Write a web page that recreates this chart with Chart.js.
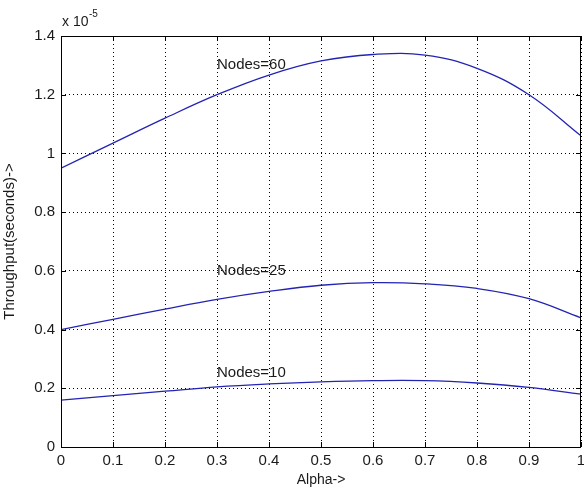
<!DOCTYPE html>
<html>
<head>
<meta charset="utf-8">
<script src="https://cdn.jsdelivr.net/npm/chart.js@4"></script>
<style>
html,body{margin:0;padding:0;background:#fff;}
#wrap{width:584px;height:491px;position:relative;}
</style>
</head>
<body>
<div id="wrap"><canvas id="c" width="584" height="491"></canvas></div>
<script>
const alpha = [0, 0.1, 0.2, 0.3, 0.4, 0.5, 0.6, 0.7, 0.8, 0.9, 1.0];
const nodes60 = [0.95, 1.035, 1.12, 1.2, 1.267, 1.315, 1.337, 1.335, 1.29, 1.2, 1.06];
const nodes25 = [0.40, 0.435, 0.47, 0.503, 0.53, 0.551, 0.56, 0.556, 0.54, 0.505, 0.44];
const nodes10 = [0.16, 0.175, 0.19, 0.205, 0.215, 0.222, 0.226, 0.226, 0.218, 0.203, 0.18];
const seriesLabels = ['Nodes=60', 'Nodes=25', 'Nodes=10'];
const labelPos = [[0.3, 1.30], [0.3, 0.60], [0.3, 0.253]];
const xTicks = [0, 0.1, 0.2, 0.3, 0.4, 0.5, 0.6, 0.7, 0.8, 0.9, 1];
const yTicks = [0, 0.2, 0.4, 0.6, 0.8, 1, 1.2, 1.4];
const FONT = 'Liberation Sans, Arial, sans-serif';
const LINE = '#2323b4';
const TXT = '#1a1a1a';

function pts(ys){ return alpha.map((x,i)=>({x:x, y:ys[i]})); }

const overlay = {
  id:'overlay',
  afterDraw(chart){
    const {ctx, chartArea:a, scales:{x, y}} = chart;
    ctx.save();
    ctx.strokeStyle = '#000'; ctx.lineWidth = 1;
    const L = 5;
    ctx.beginPath();
    xTicks.forEach(v=>{
      const px = Math.round(x.getPixelForValue(v)) + 0.5;
      ctx.moveTo(px, a.bottom); ctx.lineTo(px, a.bottom - L);
      ctx.moveTo(px, a.top); ctx.lineTo(px, a.top + L);
    });
    yTicks.forEach(v=>{
      const py = Math.round(y.getPixelForValue(v)) + 0.5;
      ctx.moveTo(a.left, py); ctx.lineTo(a.left + L, py);
      ctx.moveTo(a.right, py); ctx.lineTo(a.right - L, py);
    });
    ctx.stroke();
    ctx.strokeRect(Math.round(a.left)+0.5, Math.round(a.top)+0.5, Math.round(a.right-a.left)-1, Math.round(a.bottom-a.top));
    ctx.fillStyle = TXT;
    ctx.font = '15px ' + FONT;
    ctx.textBaseline = 'middle'; ctx.textAlign = 'left';
    seriesLabels.forEach((t,i)=>{
      ctx.fillText(t, x.getPixelForValue(labelPos[i][0]), y.getPixelForValue(labelPos[i][1]));
    });
    ctx.font = '14px ' + FONT;
    ctx.textBaseline = 'alphabetic';
    ctx.fillText('x 10', a.left + 1, a.top - 10);
    ctx.font = '10px ' + FONT;
    ctx.fillText('-5', a.left + 28, a.top - 19);
    ctx.restore();
  }
};

new Chart(document.getElementById('c'), {
  type:'line',
  data:{
    datasets:[
      {label:seriesLabels[0], data:pts(nodes60)},
      {label:seriesLabels[1], data:pts(nodes25)},
      {label:seriesLabels[2], data:pts(nodes10)}
    ].map(d=>Object.assign(d,{borderColor:LINE, borderWidth:1.3, pointRadius:0, tension:0.4, fill:false}))
  },
  options:{
    responsive:false, animation:false,
    layout:{padding:{left:0, right:3, top:36, bottom:0}},
    plugins:{legend:{display:false}, tooltip:{enabled:false}},
    scales:{
      x:{
        type:'linear', min:0, max:1,
        afterFit(s){ s.height = 44; s.paddingLeft = 0; s.paddingRight = 0; },
        afterBuildTicks(s){ s.ticks = xTicks.map(v=>({value:v})); },
        border:{display:false, dash:[1,3]},
        grid:{color:'#000', lineWidth:1, drawTicks:false},
        ticks:{padding:5, color:TXT, font:{family:FONT, size:15}, maxRotation:0, autoSkip:false,
          callback:v=>String(Number(v.toFixed(1)))},
        title:{display:true, text:'Alpha->', color:TXT, font:{family:FONT, size:14}, padding:{top:0,bottom:2}}
      },
      y:{
        type:'linear', min:0, max:1.4,
        afterFit(s){ s.width = 61; s.paddingTop = 0; s.paddingBottom = 0; },
        afterBuildTicks(s){ s.ticks = yTicks.map(v=>({value:v})); },
        border:{display:false, dash:[1,3]},
        grid:{color:'#000', lineWidth:1, drawTicks:false},
        ticks:{padding:6, color:TXT, font:{family:FONT, size:15}, autoSkip:false,
          callback:v=>String(Number(v.toFixed(1)))},
        title:{display:true, text:'Throughput(seconds)->', color:TXT, font:{family:FONT, size:15}, padding:{top:1,bottom:0}}
      }
    }
  },
  plugins:[overlay]
});
</script>
</body>
</html>
